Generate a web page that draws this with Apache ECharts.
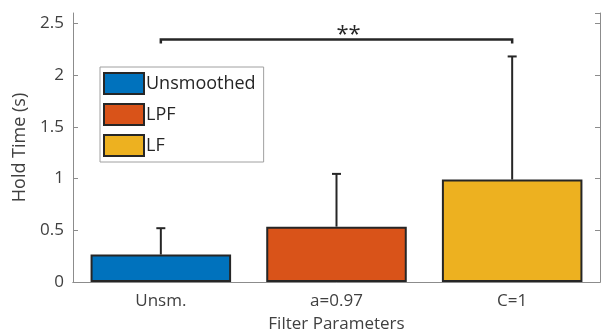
<!DOCTYPE html>
<html>
<head>
<meta charset="utf-8">
<script src="https://cdn.jsdelivr.net/npm/echarts@6/dist/echarts.min.js"></script>
<style>
  html, body { margin: 0; padding: 0; background: #fff; }
  #myChart { width: 607px; height: 333px; }
</style>
</head>
<body>
<div id="myChart"></div>
<script>
// values
const categories = ['Unsm.', 'a=0.97', 'C=1']
const seriesNames = ['Unsmoothed', 'LPF', 'LF']
const means = [0.265, 0.535, 0.99]
const upperErr = [0.255, 0.51, 1.19]
const sigPair = [0, 2]
const sigLevel = 2.345
const sigLabel = '**'

const colors = ['#0072BD', '#D95319', '#EDB120']
const edge = '#262626'
const axisGray = '#8c8c8c'
const font = '"Open Sans", sans-serif'

let series = []
seriesNames.forEach((name, i) => {
    series.push({
        name: name,
        type: 'bar',
        stack: 'all',
        barWidth: '80%',
        itemStyle: { color: colors[i], borderColor: edge, borderWidth: 2 },
        data: categories.map((c, j) => (j === i ? means[i] : '-'))
    })
})

// error bars (upper only)
series.push({
    type: 'custom',
    z: 5,
    data: means.map((m, i) => [i, m, m + upperErr[i]]),
    renderItem: (params, api) => {
        const lo = api.coord([api.value(0), api.value(1)])
        const hi = api.coord([api.value(0), api.value(2)])
        const st = { stroke: edge, lineWidth: 2 }
        return {
            type: 'group',
            children: [
                { type: 'line', shape: { x1: lo[0], y1: lo[1], x2: hi[0], y2: hi[1] }, style: st },
                { type: 'line', shape: { x1: hi[0] - 4.5, y1: hi[1], x2: hi[0] + 4.5, y2: hi[1] }, style: st }
            ]
        }
    }
})

// significance bracket
series.push({
    type: 'custom',
    z: 5,
    data: [[sigPair[0], sigPair[1], sigLevel]],
    renderItem: (params, api) => {
        const a = api.coord([api.value(0), api.value(2)])
        const b = api.coord([api.value(1), api.value(2)])
        const st = { stroke: edge, lineWidth: 2.5 }
        return {
            type: 'group',
            children: [
                { type: 'polyline', shape: { points: [[a[0], a[1] + 4], [a[0], a[1]], [b[0], b[1]], [b[0], b[1] + 4]] }, style: { ...st, fill: null } },
                { type: 'text', x: (a[0] + b[0]) / 2 + 12, y: a[1] - 5, style: { text: sigLabel, font: '22px ' + font, fill: edge, align: 'center', verticalAlign: 'middle' } }
            ]
        }
    }
})

let myChart = echarts.init(document.getElementById('myChart'))
let option = {
    animation: false,
    textStyle: { fontFamily: font },
    grid: { left: 73, right: 7, top: 13, bottom: 51, outerBoundsMode: 'none', containLabel: false },
    legend: {
        data: seriesNames,
        orient: 'vertical',
        left: 100,
        top: 67,
        icon: 'rect',
        itemWidth: 40,
        itemHeight: 21,
        itemGap: 8,
        padding: [5, 8, 5, 3],
        borderColor: '#a0a0a0',
        borderWidth: 1,
        borderRadius: 0,
        backgroundColor: '#fff',
        textStyle: { fontSize: 18, color: edge, padding: [0, 0, 0, -3] }
    },
    xAxis: [
        {
            type: 'category',
            data: categories,
            name: 'Filter Parameters',
            nameLocation: 'middle',
            nameGap: 34,
            nameTextStyle: { fontSize: 17, color: '#404040' },
            axisLine: { lineStyle: { color: axisGray } },
            axisTick: { inside: true, alignWithLabel: true, length: 5, lineStyle: { color: axisGray } },
            axisLabel: { fontSize: 17, color: '#404040', margin: 11 }
        },
        {
            type: 'category',
            data: categories,
            position: 'top',
            axisLine: { lineStyle: { color: axisGray } },
            axisTick: { inside: true, alignWithLabel: true, length: 5, lineStyle: { color: axisGray } },
            axisLabel: { show: false }
        }
    ],
    yAxis: [
        {
            type: 'value',
            min: 0,
            max: 2.6,
            interval: 0.5,
            name: 'Hold Time (s)',
            nameLocation: 'middle',
            nameGap: 44,
            nameTextStyle: { fontSize: 18, color: '#404040' },
            splitLine: { show: false },
            axisLine: { show: true, lineStyle: { color: axisGray } },
            axisTick: { show: true, inside: true, length: 5, lineStyle: { color: axisGray } },
            axisLabel: { fontSize: 17, color: '#404040', margin: 9, showMaxLabel: false }
        },
        {
            type: 'value',
            position: 'right',
            min: 0,
            max: 2.6,
            interval: 0.5,
            splitLine: { show: false },
            axisLine: { show: true, lineStyle: { color: axisGray } },
            axisTick: { show: true, inside: true, length: 5, lineStyle: { color: axisGray } },
            axisLabel: { show: false }
        }
    ],
    series: series
}
myChart.setOption(option)
</script>
</body>
</html>
